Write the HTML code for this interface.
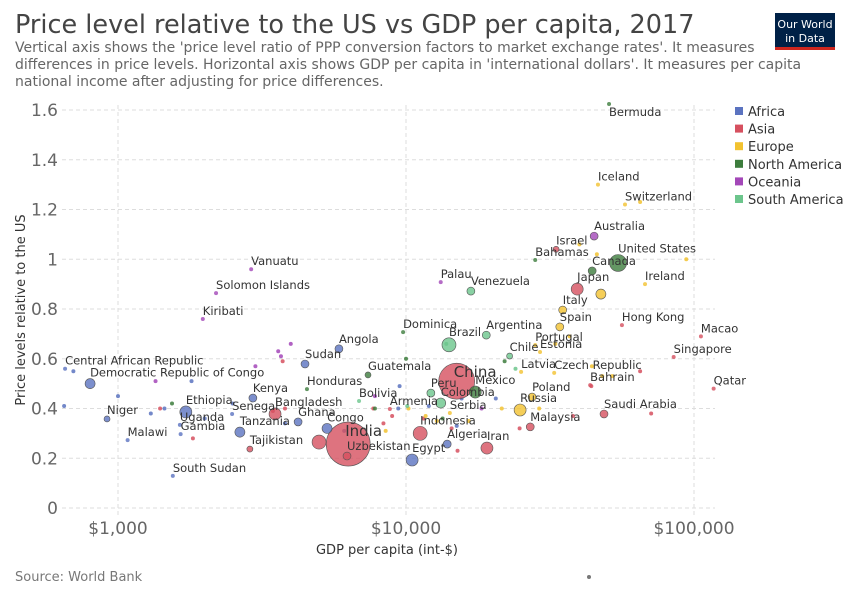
<!DOCTYPE html>
<html><head><meta charset="utf-8"><style>
body{margin:0;background:#fff;font-family:"Liberation Sans","DejaVu Sans",sans-serif}
svg text{font-family:"DejaVu Sans","Liberation Sans",sans-serif}
</style></head><body>
<svg id="chart" width="850" height="600" viewBox="0 0 850 600">
<text x="15" y="33" font-size="25.5" fill="#444">Price level relative to the US vs GDP per capita, 2017</text>
<g font-size="14" fill="#666">
<text x="15" y="52">Vertical axis shows the 'price level ratio of PPP conversion factors to market exchange rates'. It measures</text>
<text x="15" y="69">differences in price levels. Horizontal axis shows GDP per capita in 'international dollars'. It measures per capita</text>
<text x="15" y="86">national income after adjusting for price differences.</text>
</g>
<g>
<rect x="775" y="13" width="60" height="37" fill="#002147"/>
<rect x="775" y="47" width="60" height="3" fill="#ce261e"/>
<text x="805" y="28" font-size="11" fill="#fff" text-anchor="middle">Our World</text>
<text x="805" y="42" font-size="11" fill="#fff" text-anchor="middle">in Data</text>
</g>
<g id="grid"></g><g id="marks"></g><g id="labels"></g><g id="legend"></g>
<text x="387" y="554" font-size="13" fill="#333" text-anchor="middle">GDP per capita (int-$)</text>
<text transform="translate(25,310) rotate(-90)" font-size="13" fill="#333" text-anchor="middle">Price levels relative to the US</text>
<text x="15" y="581" font-size="13" fill="#777">Source: World Bank</text>
</svg>
<script>
const regions=["Africa","Asia","Europe","North America","Oceania","South America"];
const regionColors=["#5b73c0","#d6505f","#f2c230","#3d7d3d","#a347b8","#6cc58c"];
const xTicks=[1000,10000,100000];
const xTickLabels=["$1,000","$10,000","$100,000"];
const yTicks=[0,0.2,0.4,0.6,0.8,1,1.2,1.4,1.6];
const yTickLabels=["0","0.2","0.4","0.6","0.8","1","1.2","1.4","1.6"];
const countries=["Bermuda","Iceland","Switzerland","Australia","Israel","Bahamas","United States","Canada","Japan","","Ireland","Palau","Venezuela","Italy","Spain","Hong Kong","Macao","Kiribati","Vanuatu","Solomon Islands","Dominica","Argentina","Portugal","Brazil","China","Chile","Estonia","Singapore","Qatar","Central African Republic","Democratic Republic of Congo","Sudan","Angola","Guatemala","Honduras","Latvia","Czech Republic","Bahrain","Peru","Mexico","Poland","Kenya","Bolivia","Colombia","Russia","Niger","Ethiopia","Senegal","Bangladesh","Armenia","Serbia","Saudi Arabia","Ghana","India","Indonesia","Malaysia","Uganda","Congo","Tanzania","Malawi","Gambia","Tajikistan","Algeria","Iran","Uzbekistan","Egypt","South Sudan",""];
const gdp=[50700,46400,57600,45000,33200,28100,54500,44300,39300,47500,67600,13200,16800,35000,34200,56200,105700,1970,2900,2190,9770,19000,28100,14100,15000,22900,29200,85000,117000,655,800,4460,5850,7380,4530,25100,32700,43600,12200,17400,27400,2940,6870,13200,24900,916,1720,2490,3510,8790,14200,48700,4220,6300,11200,27000,1640,5320,2650,1080,1650,2870,13900,19100,6240,10500,1550,4990];
const price=[1.624,1.30,1.22,1.093,1.04,0.997,0.985,0.953,0.88,0.86,0.90,0.908,0.872,0.796,0.728,0.735,0.69,0.76,0.96,0.864,0.707,0.695,0.655,0.656,0.51,0.611,0.627,0.607,0.48,0.56,0.50,0.579,0.64,0.535,0.478,0.547,0.543,0.494,0.462,0.466,0.446,0.442,0.43,0.422,0.394,0.358,0.386,0.378,0.378,0.398,0.382,0.378,0.346,0.257,0.30,0.326,0.334,0.32,0.305,0.273,0.297,0.237,0.257,0.241,0.209,0.193,0.129,0.265];
const region=[3,2,2,4,1,3,3,3,1,2,2,4,5,2,2,1,1,4,4,4,3,5,2,5,1,5,2,1,1,0,0,0,0,3,3,2,2,1,5,3,2,0,5,5,2,0,0,0,1,1,2,1,0,1,1,1,0,0,0,0,0,1,0,1,1,0,0,1];
const pop=[11,11,11,44,25,11,200,44,100,70,11,11,44,44,44,11,11,11,11,11,11,44,11,136,900,25,11,11,11,11,70,44,44,25,11,11,11,11,44,100,44,44,11,70,100,25,100,11,100,11,11,44,44,1344,136,44,11,70,70,11,11,25,44,100,44,100,11,136];
const extraGdp=[650,700,1000,1300,1450,1800,2000,2500,3800,6100,9500,9400,12000,15000,15600,20500,1400,1820,3450,3800,3730,7700,8350,8950,11500,14400,15100,24800,38000,65000,71000,44000,8500,10200,11700,12800,16500,21500,29000,33000,37000,48000,52000,65000,94000,40000,46000,44200,1350,3680,3600,3980,7800,18300,1540,7800,13400,22000,10000,10100,13800,24000,3000];
const extraPrice=[0.41,0.55,0.45,0.38,0.40,0.51,0.36,0.42,0.34,0.31,0.49,0.40,0.41,0.33,0.44,0.44,0.40,0.28,0.39,0.40,0.59,0.40,0.34,0.37,0.36,0.32,0.23,0.32,0.37,0.55,0.38,0.49,0.31,0.40,0.37,0.35,0.35,0.40,0.40,0.66,0.69,0.53,0.53,1.23,1.0,1.06,1.02,0.57,0.51,0.61,0.63,0.66,0.45,0.40,0.42,0.40,0.36,0.59,0.60,0.41,0.66,0.56,0.57];
const extraRegion=[0,0,0,0,0,0,0,0,0,0,0,0,0,0,0,0,1,1,1,1,1,1,1,1,1,1,1,1,1,1,1,1,2,2,2,2,2,2,2,2,2,2,2,2,2,2,2,2,4,4,4,4,4,4,3,3,3,3,3,5,5,5,4];
const NS="http://www.w3.org/2000/svg";
const L=62,R=715,T=105,B=508;
function xs(v){return 118+(Math.log10(v)-3)*288;}
function ys(v){return 508-v*248.75;}
function rs(p){return Math.max(2,0.6*Math.sqrt(p));}
function mk(t,a,parent){const e=document.createElementNS(NS,t);for(const k in a)e.setAttribute(k,a[k]);parent.appendChild(e);return e;}
const grid=document.getElementById("grid"),marks=document.getElementById("marks"),labels=document.getElementById("labels"),legend=document.getElementById("legend");
yTicks.forEach((v,i)=>{
 const ln=mk("line",{x1:L,x2:R,y1:ys(v),y2:ys(v),stroke:"#ddd","stroke-dasharray":"4,3"},grid);
 
 
 const t=mk("text",{x:58,y:ys(v)+6,"font-size":17,fill:"#666","text-anchor":"end"},grid);
 t.textContent=yTickLabels[i];
 
 
});
xTicks.forEach((v,i)=>{
 const ln=mk("line",{x1:xs(v),x2:xs(v),y1:T,y2:515,stroke:"#ddd","stroke-dasharray":"4,3"},grid);
 
 
 const t=mk("text",{x:xs(v),y:534,"font-size":17,fill:"#666","text-anchor":"middle"},grid);
 t.textContent=xTickLabels[i];
 
 
});
extraGdp.forEach((g,i)=>{
 const c=mk("circle",{cx:xs(g),cy:ys(extraPrice[i]),r:2,fill:regionColors[extraRegion[i]],"fill-opacity":0.85},marks);
 
 
});
const order=countries.map((c,i)=>i).sort((a,b)=>pop[b]-pop[a]);
order.forEach(i=>{
 const r=rs(pop[i]);
 const c=mk("circle",{cx:xs(gdp[i]),cy:ys(price[i]),r:r,fill:regionColors[region[i]],"fill-opacity":0.8,stroke:r>2?"#555":"none","stroke-width":0.6},marks);
 
 
});
countries.forEach((n,i)=>{
 if(!n)return;
 const big=pop[i]>800;
 const x=xs(gdp[i]),y=ys(price[i]),r=rs(pop[i]);
 const t=mk("text",{x:n==="Bermuda"?x:x-(big?3:0),y:n==="Bermuda"?y+12:(big?y-r+14:y-r-2),"font-size":big?15:11.5,fill:"#333"},labels);
 t.textContent=n;
 
 
});
regions.forEach((n,i)=>{
 const y=111+i*17.6;
 const s=mk("rect",{x:735,y:y-4,width:8,height:8,fill:regionColors[i]},legend);
 
 
 const t=mk("text",{x:748,y:y+5,"font-size":13,fill:"#333"},legend);
 t.textContent=n;
 
 
});
const od=mk("circle",{cx:589,cy:577,r:2,fill:"#777"},marks);


</script>
</body></html>
